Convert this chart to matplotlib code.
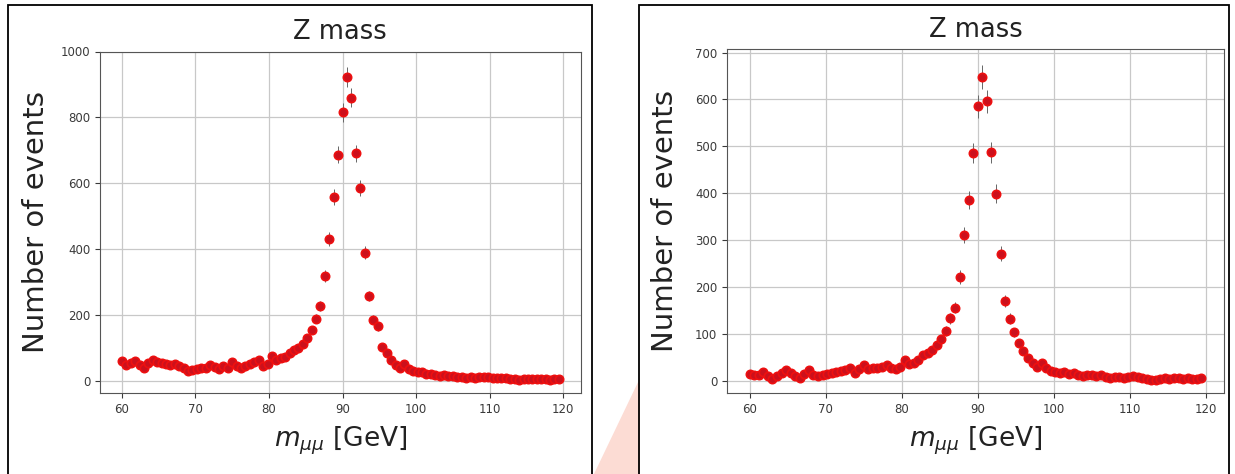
#!/usr/bin/env python3
import matplotlib
matplotlib.use("Agg")
import matplotlib.pyplot as plt
import numpy as np
from matplotlib.patches import Rectangle, Polygon

# bin positions (GeV), 100 bins of 0.6 GeV
mass = np.round(60 + 0.6 * np.arange(100), 1)

# left sample
counts_a = [61, 49, 55, 60, 47, 40, 55, 64, 57, 55,
            52, 49, 50, 45, 40, 30, 32, 36, 40, 38,
            48, 42, 36, 45, 38, 58, 45, 40, 44, 50,
            56, 62, 45, 52, 76, 62, 68, 72, 85, 92,
            100, 112, 130, 155, 189, 226, 319, 430, 558, 687,
            815, 924, 860, 691, 586, 389, 258, 186, 165, 104,
            85, 62, 48, 40, 52, 36, 30, 26, 28, 22,
            20, 18, 16, 18, 14, 15, 12, 13, 9, 10,
            8, 11, 10, 12, 9, 8, 7, 9, 5, 4,
            3, 5, 4, 6, 5, 4, 6, 3, 5, 4]

# right sample
counts_b = [14, 11, 12, 18, 10, 3, 10, 16, 22, 17,
            10, 6, 14, 22, 12, 9, 12, 14, 16, 18,
            20, 22, 27, 16, 24, 33, 24, 26, 28, 30,
            33, 27, 24, 30, 45, 36, 38, 44, 55, 58,
            65, 76, 88, 106, 133, 156, 222, 311, 386, 486,
            585, 648, 596, 487, 399, 271, 170, 132, 103, 80,
            63, 48, 37, 30, 38, 26, 20, 19, 17, 18,
            14, 16, 12, 10, 13, 11, 9, 12, 7, 6,
            8, 7, 6, 8, 9, 7, 5, 4, 2, 1,
            3, 5, 4, 6, 5, 4, 5, 3, 4, 5]

W, H = 1235, 474
fig = plt.figure(figsize=(W / 100, H / 100), dpi=100)


def px(x0, y0, x1, y1):
    # pixel box -> figure fraction [left, bottom, width, height]
    return [x0 / W, 1 - y1 / H, (x1 - x0) / W, (y1 - y0) / H]


# pale shape between the panels
fig.patches.append(Polygon([(594 / W, 0), (640 / W, 1 - 378 / H), (640 / W, 0)],
                           closed=True, transform=fig.transFigure,
                           facecolor="#fcdcd4", edgecolor="none", zorder=0))

# black frames round each panel
for x0, x1 in [(8, 592), (639, 1229)]:
    fig.patches.append(Rectangle((x0 / W, -0.05), (x1 - x0) / W, 1.05 - 5 / H,
                                 transform=fig.transFigure, fill=False,
                                 edgecolor="black", linewidth=1.3, zorder=1))

ax1 = fig.add_axes(px(100, 51.5, 580.7, 393.3))
ax2 = fig.add_axes(px(727, 49.3, 1224, 393.3))

for ax, counts, ylim, yticks in [(ax1, counts_a, (-38, 1000), np.arange(0, 1001, 200)),
                                 (ax2, counts_b, (-27, 707), np.arange(0, 701, 100))]:
    counts = np.array(counts, dtype=float)
    ax.errorbar(mass, counts, yerr=np.sqrt(counts), fmt="o", ms=6,
                mfc="#cc101c", mec="#ee1010", mew=1.2,
                ecolor="#666666", elinewidth=0.7, zorder=3)
    ax.set_xlim(57.03, 122.37)
    ax.set_ylim(*ylim)
    ax.set_xticks(np.arange(60, 121, 10))
    ax.set_yticks(yticks)
    ax.grid(True, color="#c8c8c8", linewidth=0.9)
    ax.set_axisbelow(True)
    ax.tick_params(labelsize=8.5, colors="#3a3a3a", length=3.5)
    for s in ax.spines.values():
        s.set_color("#555555")
    ax.set_title("Z mass", fontsize=18.5, pad=9, color="#222222")
    ax.set_xlabel(r"$m_{\mu\mu}$ [GeV]", fontsize=19, color="#222222")
    ax.set_ylabel("Number of events", fontsize=21, color="#222222")

# ylabel anchor is its right edge, xlabel anchor is its top
ax1.yaxis.set_label_coords((50 - 100) / 480.7, 0.5)
ax2.yaxis.set_label_coords((679 - 727) / 497, 0.5)
ax1.xaxis.set_label_coords(0.5, -(425 - 393.3) / 341.8)
ax2.xaxis.set_label_coords(0.5, -(425 - 393.3) / 344)

fig.savefig("out.png", dpi=100)
